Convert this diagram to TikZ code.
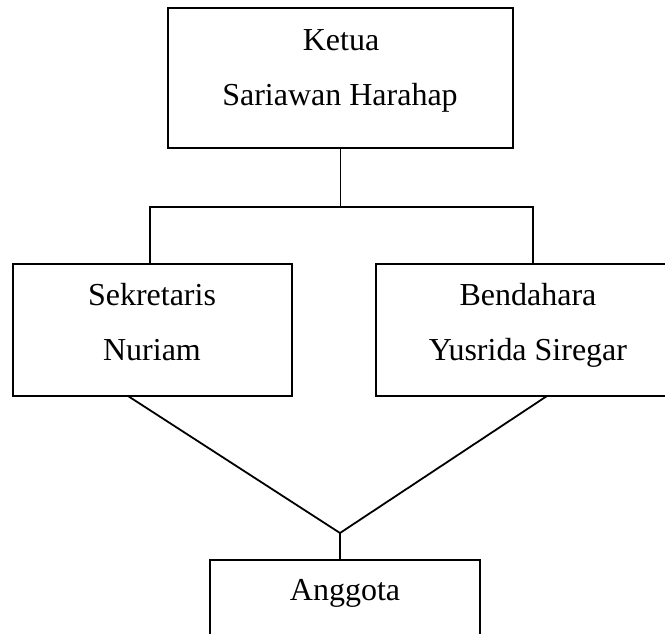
\documentclass[tikz,border=0pt]{standalone}
\usepackage{fontspec}
\setmainfont{Liberation Serif}
\begin{document}
\begin{tikzpicture}[x=1pt,y=-1pt,
  box/.style={draw,line width=1.9pt,rectangle,inner sep=0pt},
  lbl/.style={anchor=base,inner sep=0pt,font=\fontsize{32}{38}\selectfont},
  conn/.style={line width=1.8pt}]
\useasboundingbox (0,0) rectangle (665,633);
\fill[white] (0,0) rectangle (665,633);
\clip (0,0) rectangle (665,633);
% boxes
\node[box,minimum width=345pt,minimum height=140pt] (ketua) at (340.5,78) {};
\node[box,minimum width=279pt,minimum height=132pt] (sek) at (152.5,330) {};
\node[box,minimum width=314pt,minimum height=132pt] (ben) at (533,330) {};
\node[box,minimum width=270pt,minimum height=140pt] (ang) at (345,630) {};
% texts
\node[lbl] (t1) at (341,50) {Ketua};
\node[lbl] (t2) at (340,105) {Sariawan Harahap};
\node[lbl] (t3) at (152,305) {Sekretaris};
\node[lbl] (t4) at (152,360) {Nuriam};
\node[lbl] (t5) at (528,305) {Bendahara};
\node[lbl] (t6) at (528,360) {Yusrida Siregar};
\node[lbl] (t7) at (345,600) {Anggota};
% connectors
\coordinate (jl) at (150,207);
\coordinate (jr) at (533,207);
\coordinate (sd) at (128,396);
\coordinate (bd) at (547,396);
\coordinate (jb) at (340,533);
\draw[conn] (ketua.south) -- (ketua.south |- jl);
\draw[conn] (jl |- sek.north) -- (jl) -- (jr) -- (jr |- ben.north);
\draw[conn] (sd) -- (jb) -- (bd);
\draw[conn] (jb) -- (jb |- ang.north);
\end{tikzpicture}
\end{document}
